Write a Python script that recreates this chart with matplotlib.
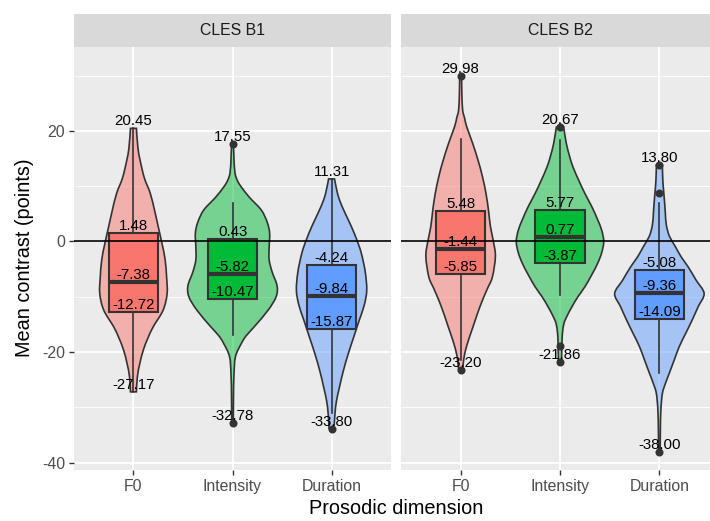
import numpy as np
import matplotlib
matplotlib.use("Agg")
import matplotlib.pyplot as plt
from matplotlib.colors import to_rgba
from matplotlib.path import Path
from matplotlib.patches import PathPatch

plt.rcParams["font.family"] = ["Liberation Sans", "DejaVu Sans"]
plt.rcParams["axes.unicode_minus"] = False

categories = ["F0", "Intensity", "Duration"]
panels = ["CLES B1", "CLES B2"]
colors = ["#F8766D", "#00BA38", "#619CFF"]

# box statistics per panel, one value per category
q3 = [[1.48, 0.43, -4.24], [5.48, 5.77, -5.08]]
median = [[-7.38, -5.82, -9.84], [-1.44, 0.77, -9.36]]
q1 = [[-12.72, -10.47, -15.87], [-5.85, -3.87, -14.09]]
vmax = [[20.45, 17.55, 11.31], [29.98, 20.67, 13.80]]
vmin = [[-27.17, -32.78, -33.80], [-23.20, -21.86, -38.00]]
whisk_hi = [[20.45, 6.96, 11.31], [18.5, 18.4, 7.0]]
whisk_lo = [[-27.17, -16.9, -31.0], [-21.5, -9.7, -23.8]]
outliers = [
    [[], [17.55, -32.78], [-33.80]],
    [[29.98, -23.20], [20.67, -18.9, -21.86], [13.80, 8.7, -38.00]],
]

# violin outlines: (value, half width)
violins = [
    [
        [(20.45, 0.03), (17, 0.045), (14.7, 0.067), (11.5, 0.11), (8.7, 0.17),
         (5.5, 0.215), (2.7, 0.25), (-0.5, 0.29), (-3.3, 0.32), (-6.5, 0.335),
         (-9.4, 0.34), (-12.4, 0.30), (-15.4, 0.20), (-17.5, 0.145), (-19.6, 0.10),
         (-22, 0.065), (-24.4, 0.04), (-27.17, 0.03)],
        [(17.55, 0.01), (15, 0.015), (12.4, 0.025), (11, 0.05), (9.9, 0.087),
         (8, 0.17), (5.7, 0.29), (3.5, 0.35), (1.5, 0.375), (-1, 0.37),
         (-3.3, 0.37), (-5.5, 0.40), (-8, 0.45), (-10, 0.44), (-12.4, 0.36),
         (-15.4, 0.22), (-17, 0.14), (-18.4, 0.09), (-20.8, 0.03), (-24, 0.015),
         (-28, 0.01), (-32.78, 0.008)],
        [(11.31, 0.03), (9.5, 0.05), (7.5, 0.08), (5, 0.14), (2.7, 0.2),
         (0.3, 0.255), (-2.1, 0.30), (-5.5, 0.34), (-8.8, 0.355), (-11.5, 0.33),
         (-14.2, 0.28), (-17.2, 0.225), (-20.2, 0.17), (-23.3, 0.12), (-26.3, 0.08),
         (-28.8, 0.05), (-31, 0.035), (-33.8, 0.025)],
    ],
    [
        [(29.98, 0.01), (27, 0.012), (23.8, 0.02), (22.3, 0.04), (20.8, 0.06),
         (17.8, 0.12), (14.7, 0.175), (11.7, 0.22), (8.7, 0.255), (5.7, 0.28),
         (2.7, 0.30), (0, 0.33), (-2.7, 0.35), (-6.4, 0.32), (-8.5, 0.27),
         (-10.6, 0.22), (-13, 0.17), (-15.4, 0.125), (-17.5, 0.085), (-19.6, 0.05),
         (-21.5, 0.03), (-23.2, 0.02)],
        [(20.67, 0.037), (17.8, 0.063), (15.5, 0.095), (13.5, 0.13), (11, 0.19),
         (8.7, 0.25), (6.3, 0.32), (3.9, 0.38), (2, 0.42), (0, 0.44),
         (-2, 0.42), (-3.9, 0.38), (-6, 0.32), (-8.2, 0.25), (-10, 0.18),
         (-11.8, 0.12), (-13.5, 0.07), (-14.8, 0.04), (-16.5, 0.025), (-18.4, 0.02),
         (-21.86, 0.015)],
        [(13.8, 0.03), (11, 0.035), (8.7, 0.045), (6.5, 0.055), (5.1, 0.06),
         (3, 0.07), (1, 0.1), (-0.9, 0.16), (-2.8, 0.22), (-4.6, 0.29),
         (-7, 0.37), (-9.4, 0.45), (-11.8, 0.39), (-14.2, 0.33), (-16.6, 0.265),
         (-19, 0.2), (-21.4, 0.15), (-23.8, 0.1), (-25.7, 0.06), (-27.5, 0.03),
         (-30.5, 0.015), (-34, 0.01), (-38, 0.008)],
    ],
]

W, H = 710, 521
fig = plt.figure(figsize=(W / 100, H / 100), dpi=100)
fig.patch.set_facecolor("white")


def px_axes(l, t, r, b):
    return fig.add_axes([l / W, 1 - b / H, (r - l) / W, (b - t) / H])


def smooth_side(pts):
    # bezier segments running through the given outline points
    verts, codes = [], []
    n = len(pts)
    for k in range(n - 1):
        p0 = pts[max(k - 1, 0)]
        p1, p2 = pts[k], pts[k + 1]
        p3 = pts[min(k + 2, n - 1)]
        c1 = p1 + (p2 - p0) / 6
        c2 = p2 - (p3 - p1) / 6
        verts += [c1, c2, p2]
        codes += [Path.CURVE4] * 3
    return verts, codes


def violin_path(x, prof):
    vy = np.array([v for v, _ in prof])
    hw = np.array([w for _, w in prof])
    lside = np.column_stack([x - hw, vy])
    rside = np.column_stack([x + hw, vy])[::-1]
    verts, codes = [lside[0]], [Path.MOVETO]
    v, c = smooth_side(lside)
    verts += v; codes += c
    verts.append(rside[0]); codes.append(Path.LINETO)
    v, c = smooth_side(rside)
    verts += v; codes += c
    verts.append(lside[0]); codes.append(Path.CLOSEPOLY)
    return Path(np.array(verts), codes)


EDGE = "#333333"
BOX_HW = 0.25
xs = np.arange(len(categories)) + 1

for p, name in enumerate(panels):
    left = 74 if p == 0 else 401
    right = 391 if p == 0 else 719
    ax = px_axes(left, 47.3, right, 470)
    ax.set_facecolor("#EBEBEB")
    ax.set_xlim(0.4, 3.6)
    ax.set_ylim(-41.3, 35.1)
    ax.set_yticks([-40, -20, 0, 20])
    ax.set_yticks([-30, -10, 10, 30], minor=True)
    ax.set_xticks(xs)
    ax.set_xticklabels(categories)
    ax.grid(True, which="major", color="white", lw=1.3, zorder=0)
    ax.grid(True, which="minor", axis="y", color="white", lw=0.6, zorder=0)
    ax.set_axisbelow(True)
    for s in ax.spines.values():
        s.set_visible(False)
    ax.tick_params(which="major", length=3.5, width=1.0, color="#333333",
                   labelcolor="#4D4D4D", labelsize=11.4, pad=3)
    ax.tick_params(which="minor", length=0)
    if p == 1:
        ax.tick_params(axis="y", which="both", length=0, labelleft=False)

    for i, x in enumerate(xs):
        ax.add_patch(PathPatch(violin_path(x, violins[p][i]),
                               facecolor=to_rgba(colors[i], 0.5),
                               edgecolor=EDGE, lw=1.2, zorder=2))

        ax.plot([x, x], [q3[p][i], whisk_hi[p][i]], color=EDGE, lw=1.2, zorder=3)
        ax.plot([x, x], [q1[p][i], whisk_lo[p][i]], color=EDGE, lw=1.2, zorder=3)
        ax.add_patch(plt.Rectangle((x - BOX_HW, q1[p][i]), 2 * BOX_HW,
                                   q3[p][i] - q1[p][i], facecolor=colors[i],
                                   edgecolor=EDGE, lw=1.5, zorder=4))
        ax.plot([x - BOX_HW, x + BOX_HW], [median[p][i]] * 2, color=EDGE,
                lw=3.0, solid_capstyle="butt", zorder=5)
        if outliers[p][i]:
            ax.plot([x] * len(outliers[p][i]), outliers[p][i], "o", color=EDGE,
                    ms=5.8, mec="none", zorder=6)

        for v in (vmax[p][i], q3[p][i], median[p][i], q1[p][i], vmin[p][i]):
            ax.text(x, v, f"{v:.2f}", ha="center", va="bottom", fontsize=10.8,
                    color="black", zorder=8)

    ax.axhline(0, color="black", lw=1.2, zorder=7)

    st = px_axes(left, 14, right, 47.3)
    st.set_facecolor("#D9D9D9")
    st.set_xticks([]); st.set_yticks([])
    for s in st.spines.values():
        s.set_visible(False)
    st.text(0.5, 0.5, name, transform=st.transAxes, ha="center", va="center",
            fontsize=11.4, color="#1A1A1A")

fig.text(25 / W, 1 - 258 / H, "Mean contrast (points)", rotation=90,
         ha="center", va="center", fontsize=14.3, color="black")
fig.text(396.5 / W, 1 - 509 / H, "Prosodic dimension", ha="center",
         va="center", fontsize=14.3, color="black")

fig.savefig("out.png", dpi=100)
